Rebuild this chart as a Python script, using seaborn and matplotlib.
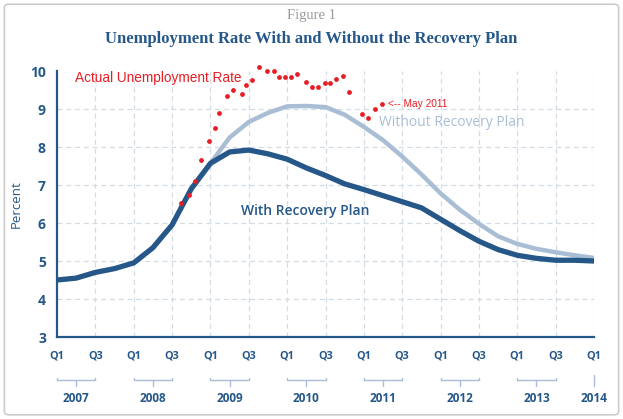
import numpy as np
import pandas as pd
import seaborn as sns
import matplotlib
matplotlib.use('Agg')
import matplotlib.pyplot as plt
from matplotlib.patches import FancyBboxPatch

# quarters counted from 2007 Q1 (0) to 2014 Q1 (28)
with_q = list(range(0, 29))
with_plan = [4.50, 4.55, 4.70, 4.80, 4.95, 5.35, 5.95, 6.90, 7.57, 7.87,
             7.92, 7.82, 7.68, 7.45, 7.25, 7.03, 6.88, 6.72, 6.56, 6.40,
             6.10, 5.80, 5.52, 5.30, 5.15, 5.07, 5.02, 5.02, 5.00]
without_q = list(range(8, 29))
without_plan = [7.57, 8.25, 8.66, 8.90, 9.07, 9.08, 9.05, 8.85, 8.53, 8.18,
                7.75, 7.28, 6.78, 6.35, 5.98, 5.65, 5.45, 5.32, 5.23, 5.15, 5.08]
# monthly actual rate (position read in quarters)
actual_q = [6.48, 6.86, 7.21, 7.52, 7.95, 8.24, 8.47, 8.87, 9.18, 9.63,
            9.87, 10.15, 10.55, 10.96, 11.31, 11.58, 11.88, 12.21, 12.52, 12.97,
            13.31, 13.61, 13.96, 14.23, 14.56, 14.91, 15.22, 15.91, 16.21, 16.57, 16.92]
actual = [6.52, 6.74, 7.11, 7.66, 8.17, 8.51, 8.89, 9.35, 9.51, 9.39,
          9.62, 9.76, 10.1, 10.0, 10.0, 9.83, 9.83, 9.83, 9.92, 9.70,
          9.59, 9.59, 9.68, 9.68, 9.79, 9.88, 9.45, 8.87, 8.77, 9.00, 9.12]
tick_q = list(range(0, 29, 2))
tick_labels = ["Q1" if i % 4 == 0 else "Q3" for i in tick_q]
years = ["2007", "2008", "2009", "2010", "2011", "2012", "2013", "2014"]

DARK = "#255789"
LIGHT = "#a9bed5"
RED = "#e61e25"
GRID = "#d3dbe3"

sns.set_theme(style="white")
plt.rcParams['font.family'] = ['Open Sans', 'DejaVu Sans']

df_with = pd.DataFrame({"q": with_q, "rate": with_plan})
df_without = pd.DataFrame({"q": without_q, "rate": without_plan})
df_actual = pd.DataFrame({"q": actual_q, "rate": actual})

fig = plt.figure(figsize=(6.23, 4.19), dpi=100)
frame = FancyBboxPatch((0.007, 0.01), 0.986, 0.98, boxstyle="round,pad=0,rounding_size=0.008",
                       transform=fig.transFigure, fc="none", ec="#cccccc", lw=1.2, zorder=-1)
fig.patches.append(frame)
ax = fig.add_axes([0.0915, 0.1957, 0.862, 0.6348])
ax.set_facecolor("none")

sns.lineplot(data=df_without, x="q", y="rate", color=LIGHT, lw=3.2, ax=ax, zorder=3)
sns.lineplot(data=df_with, x="q", y="rate", color=DARK, lw=3.8, ax=ax, zorder=4)
sns.scatterplot(data=df_actual, x="q", y="rate", color=RED, s=12, linewidth=0, ax=ax, zorder=5, clip_on=False)

ax.set_xlim(0, 28)
ax.set_ylim(3, 10)
ax.set_yticks(range(3, 11))
ax.set_yticklabels([str(v) for v in range(3, 11)], fontsize=10, fontweight="bold", color=DARK)
ax.set_xticks(tick_q)
ax.set_xticklabels(tick_labels, fontsize=7.8, fontweight="bold", color=DARK)
ax.tick_params(axis="y", length=3, width=1, color=DARK, pad=5, direction="out")
ax.tick_params(axis="x", length=0, pad=10)
ax.set_xlabel("")
ax.set_ylabel("Percent", fontsize=9.5, color=DARK, labelpad=5)

ax.grid(True, color=GRID, lw=0.9, ls=(0, (4, 3)))
ax.get_ygridlines()[-1].set_visible(False)
ax.get_ygridlines()[0].set_visible(False)
ax.get_xgridlines()[0].set_visible(False)
for s in ["top", "right"]:
    ax.spines[s].set_visible(False)
for s in ["left", "bottom"]:
    ax.spines[s].set_color(DARK)
    ax.spines[s].set_linewidth(1.6)

# year brackets under the quarter labels
trans = ax.get_xaxis_transform()
for i, yr in enumerate(years):
    q0 = i * 4
    if i < len(years) - 1:
        ax.plot([q0, q0, q0 + 2, q0 + 2], [-0.155, -0.163, -0.163, -0.155], transform=trans,
                color=LIGHT, lw=1, clip_on=False)
        ax.plot([q0 + 1, q0 + 1], [-0.163, -0.185], transform=trans, color=LIGHT, lw=1, clip_on=False)
        xc = q0 + 1
    else:
        ax.plot([q0, q0], [-0.143, -0.185], transform=trans, color=LIGHT, lw=1, clip_on=False)
        xc = q0
    ax.text(xc, -0.232, yr, transform=trans, ha="center", va="center",
            fontsize=8.5, fontweight="bold", color=DARK)

ax.text(0.94, 9.82, "Actual Unemployment Rate", color=RED, fontsize=9.8,
        family="Liberation Sans", va="center", ha="left")
ax.text(17.25, 9.13, "<-- May 2011", color=RED, fontsize=7.3,
        family="Liberation Sans", va="center", ha="left")
ax.text(16.8, 8.64, "Without Recovery Plan", color=LIGHT, fontsize=10, va="center", ha="left")
ax.text(9.6, 6.32, "With Recovery Plan", color=DARK, fontsize=10, fontweight="semibold",
        va="center", ha="left")

fig.text(0.5, 0.962, "Figure 1", ha="center", va="center", fontsize=10.5,
         family="Liberation Serif", color="#9a9a9a")
fig.text(0.5, 0.908, "Unemployment Rate With and Without the Recovery Plan", ha="center",
         va="center", fontsize=12, family="Liberation Serif", fontweight="bold", color=DARK)

fig.savefig("out.png", dpi=100)
